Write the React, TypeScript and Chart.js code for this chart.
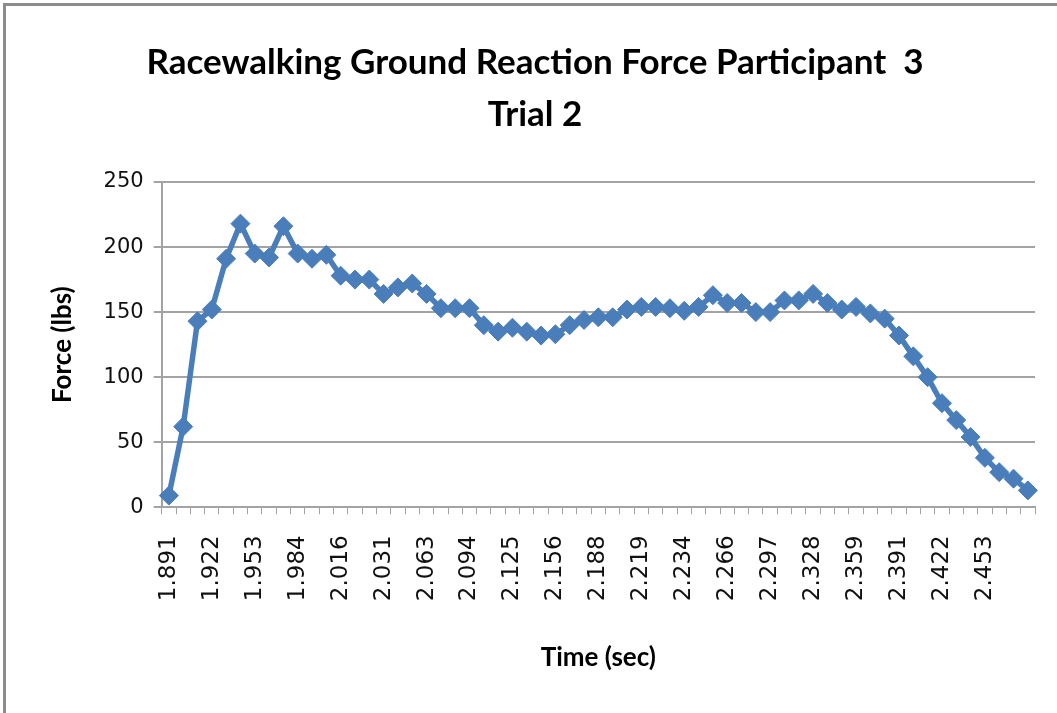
import React, { useEffect, useRef } from 'react';
import { Chart, registerables } from 'chart.js';

Chart.register(...registerables);

// Tick labels shown on the time axis (every third sample)
const tickLabels = [
  '1.891', '1.922', '1.953', '1.984', '2.016', '2.031', '2.063', '2.094', '2.125', '2.156',
  '2.188', '2.219', '2.234', '2.266', '2.297', '2.328', '2.359', '2.391', '2.422', '2.453',
];

// Force (lbs) per sample
const forceValues = [
  9, 62, 143, 152, 191, 218, 195, 192, 216, 195,
  191, 194, 178, 175, 175, 164, 169, 172, 164, 153,
  153, 153, 140, 135, 138, 135, 132, 133, 140, 144,
  146, 146, 152, 154, 154, 153, 151, 154, 163, 157,
  157, 150, 150, 159, 159, 164, 157, 152, 154, 149,
  145, 132, 116, 100, 80, 67, 54, 38, 27, 22,
  13,
];

const labelEvery = 3;
const categories = forceValues.map((_, i) =>
  i % labelEvery === 0 ? tickLabels[i / labelEvery] ?? '' : ''
);

const titleLines = ['Racewalking Ground Reaction Force Participant  3', 'Trial 2'];
const yTitle = 'Force (lbs)';
const xTitle = 'Time (sec)';

const headFont = "Lato, 'Open Sans', 'DejaVu Sans', sans-serif";
const tickFont = "'DejaVu Sans', Verdana, sans-serif";

export default function App() {
  const canvasRef = useRef<HTMLCanvasElement | null>(null);

  useEffect(() => {
    document.body.style.margin = '0';
    const canvas = canvasRef.current;
    if (!canvas) return;
    const blue = '#4A7EBB';
    const gridGray = '#a3a3a3';
    const chart = new Chart(canvas, {
      type: 'line',
      data: {
        labels: categories,
        datasets: [
          {
            data: forceValues,
            borderColor: blue,
            backgroundColor: blue,
            borderWidth: 5.5,
            pointStyle: 'rectRot',
            pointRadius: 9.5,
            pointBorderWidth: 1,
            pointBackgroundColor: blue,
            pointBorderColor: blue,
            tension: 0,
          },
        ],
      },
      options: {
        responsive: false,
        animation: false,
        layout: { padding: { left: 35, right: 22, top: 0, bottom: 0 } },
        plugins: {
          legend: { display: false },
          tooltip: { enabled: false },
          title: {
            display: true,
            text: titleLines,
            color: '#000',
            font: { family: headFont, size: 35, weight: 'bold', lineHeight: 1.5 },
            padding: { top: 36, bottom: 41 },
          },
        },
        scales: {
          x: {
            type: 'category',
            offset: true,
            grid: {
              offset: true,
              drawOnChartArea: false,
              drawTicks: true,
              tickLength: 7,
              color: gridGray,
              lineWidth: 1,
            },
            border: { display: true, color: gridGray, width: 2 },
            ticks: {
              autoSkip: false,
              maxRotation: 90,
              minRotation: 90,
              padding: 21,
              color: '#111',
              font: { family: tickFont, size: 23 },
            },
            title: {
              display: true,
              text: xTitle,
              color: '#000',
              font: { family: headFont, size: 26, weight: 'bold', lineHeight: 1.2 },
              padding: { top: 0, bottom: 40 },
            },
            afterFit: (scale: any) => {
              scale.height = 205.7;
              scale.paddingLeft = 0;
              scale.paddingRight = 0;
            },
          },
          y: {
            min: 0,
            max: 250,
            ticks: {
              stepSize: 50,
              padding: 10,
              color: '#111',
              font: { family: tickFont, size: 21 },
            },
            grid: {
              color: gridGray,
              lineWidth: 2,
              drawTicks: true,
              tickLength: 8,
            },
            border: { display: true, color: gridGray, width: 2 },
            title: {
              display: true,
              text: yTitle,
              color: '#000',
              font: { family: headFont, size: 26, weight: 'bold', lineHeight: 1.2 },
              padding: { top: 12, bottom: 0 },
            },
            afterFit: (scale: any) => {
              scale.width = 126.7;
            },
          },
        },
      },
    });
    return () => chart.destroy();
  }, []);

  return (
    <div
      style={{
        position: 'relative',
        width: 1057,
        height: 713,
        overflow: 'hidden',
        background: '#fff',
      }}
    >
      <canvas ref={canvasRef} width={1057} height={713} style={{ position: 'absolute', left: 0, top: 0 }} />
      <div
        style={{
          position: 'absolute',
          left: 3,
          top: 3,
          width: 1200,
          height: 900,
          borderLeft: '3px solid #8c8c8c',
          borderTop: '3px solid #8c8c8c',
          pointerEvents: 'none',
        }}
      />
    </div>
  );
}
